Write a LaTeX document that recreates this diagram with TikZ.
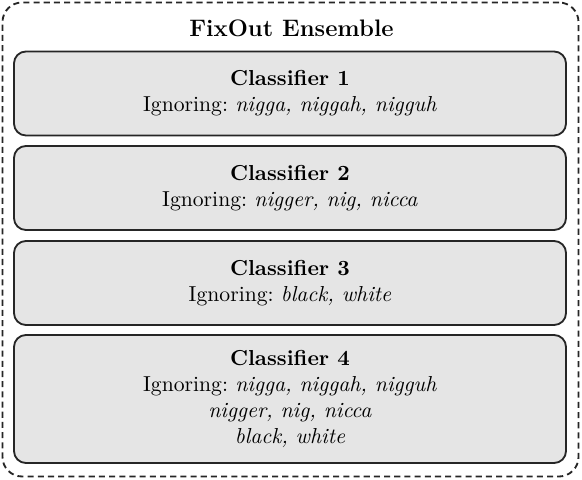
\documentclass[tikz,border=0pt]{standalone}
\begin{document}
\frenchspacing
\begin{tikzpicture}[x=0.4615pt,y=-0.4615pt,
  clsbox/.style={draw=black!85, line width=0.85pt, fill=black!10, rounded corners=5.5pt,
    minimum width=552*0.4615pt, align=center, inner sep=0pt},
  outerbox/.style={draw=black!85, line width=0.85pt, dash pattern=on 2.8pt off 1.9pt,
    rounded corners=9pt, minimum width=576*0.4615pt, minimum height=474*0.4615pt, inner sep=0pt},
  titletext/.style={font=\fontsize{11}{13}\selectfont\bfseries, inner sep=0pt}]
\useasboundingbox (0,0) rectangle (582,480);
\node[outerbox] (ens) at (290.5,239.5) {};
\node[titletext] (title) at (291.5,28) {FixOut Ensemble};
\node[clsbox, minimum height=84*0.4615pt] (c1) at (290,93.5)
  {\textbf{Classifier 1}\\Ignoring: \textit{nigga, niggah, nigguh}};
\node[clsbox, minimum height=84*0.4615pt] (c2) at (290,188)
  {\textbf{Classifier 2}\\Ignoring: \textit{nigger, nig, nicca}};
\node[clsbox, minimum height=84*0.4615pt] (c3) at (290,283)
  {\textbf{Classifier 3}\\Ignoring: \textit{black, white}};
\node[clsbox, minimum height=128*0.4615pt] (c4) at (290,399)
  {\textbf{Classifier 4}\\Ignoring: \textit{nigga, niggah, nigguh}\\\textit{nigger, nig, nicca}\\\textit{black, white}};
\end{tikzpicture}
\end{document}
